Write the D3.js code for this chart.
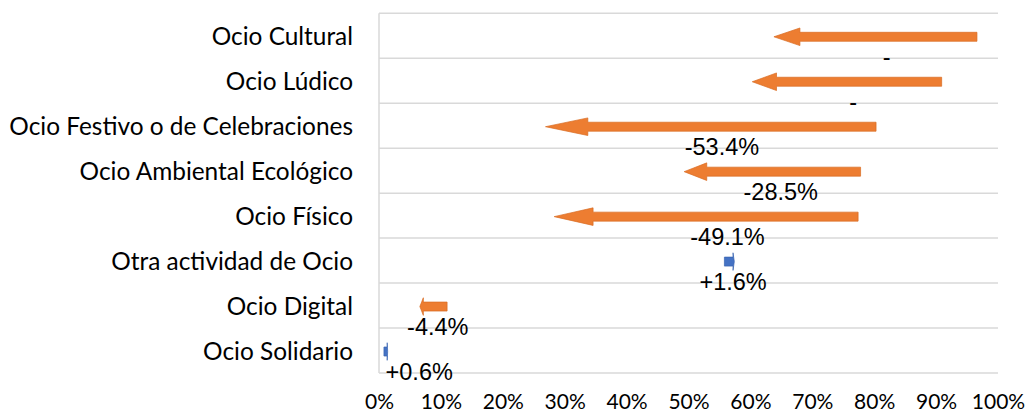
<!DOCTYPE html>
<html>
<head>
<meta charset="utf-8">
<script src="https://cdn.jsdelivr.net/npm/d3@7"></script>
<style>
  body { margin: 0; background: #fff; }
</style>
</head>
<body>
<div id="chart"></div>
<script>
// rows top to bottom
const categories = [
  "Ocio Cultural",
  "Ocio Lúdico",
  "Ocio Festivo o de Celebraciones",
  "Ocio Ambiental Ecológico",
  "Ocio Físico",
  "Otra actividad de Ocio",
  "Ocio Digital",
  "Ocio Solidario"
]
// arrow goes from startValues to endValues (percent)
const startValues = [96.6, 90.9, 80.3, 77.8, 77.4, 55.8, 11.0, 0.8]
const endValues   = [63.8, 60.3, 26.9, 49.3, 28.3, 57.4, 6.6, 1.4]
const changeLabels = ["-", "-", "-53.4%", "-28.5%", "-49.1%", "+1.6%", "-4.4%", "+0.6%"]
// where each change label sits on the axis (percent)
const labelAt = [82.0, 76.6, 55.4, 64.9, 56.3, 57.2, 9.5, 6.5]
const xTicks = [0, 10, 20, 30, 40, 50, 60, 70, 80, 90, 100]

const width = 1025, height = 415

const svg = d3.select("#chart").append("svg")
  .attr("width", width)
  .attr("height", height)

const x = d3.scaleLinear().domain([0, 100]).range([379, 998])
const y = d3.scaleBand().domain(categories).range([13.3, 373])

// horizontal gridlines on band edges
const edges = categories.map(c => y(c)).concat([y.range()[1]])
svg.append("g")
  .selectAll("line")
  .data(edges)
  .enter().append("line")
  .attr("x1", x(0))
  .attr("x2", x(100))
  .attr("y1", d => d)
  .attr("y2", d => d)
  .attr("stroke", "#d9d9d9")
  .attr("stroke-width", 1.5)

// vertical axis line
svg.append("line")
  .attr("x1", x(0)).attr("x2", x(0))
  .attr("y1", y.range()[0]).attr("y2", y.range()[1])
  .attr("stroke", "#d9d9d9")
  .attr("stroke-width", 1.5)

// category labels
const yAxis = svg.append("g")
  .attr("transform", `translate(${x(0)},0)`)
  .call(d3.axisLeft(y).tickSize(0).tickPadding(26))
yAxis.select(".domain").remove()
yAxis.selectAll("text")
  .attr("dy", "0.38em")
  .attr("font-family", "Lato, 'Open Sans', sans-serif")
  .attr("font-size", 24.4)
  .attr("fill", "#000")

// percent ticks
const xAxis = svg.append("g")
  .attr("transform", `translate(0,${y.range()[1]})`)
  .call(d3.axisBottom(x).tickValues(xTicks).tickFormat(d => d + "%").tickSize(0).tickPadding(21))
xAxis.select(".domain").remove()
xAxis.selectAll("text")
  .attr("font-family", "Lato, 'Open Sans', sans-serif")
  .attr("font-size", 21)
  .attr("fill", "#000")

// arrows
const rows = categories.map((c, i) => ({
  cat: c, start: startValues[i], end: endValues[i], label: changeLabels[i], at: labelAt[i]
}))

function arrowPath(d) {
  const s = x(d.start), e = x(d.end)
  const dir = e >= s ? 1 : -1
  const len = Math.abs(e - s)
  const head = len * 0.128
  const cy = y(d.cat) + y.bandwidth() / 2 + 1
  const b = e - dir * head
  return [
    [s, cy - 4.5], [b, cy - 4.5], [b, cy - 8.8], [e, cy],
    [b, cy + 8.8], [b, cy + 4.5], [s, cy + 4.5]
  ].map(p => p.join(",")).join(" ")
}

svg.append("g")
  .selectAll("polygon")
  .data(rows)
  .enter().append("polygon")
  .attr("points", arrowPath)
  .attr("fill", d => d.end < d.start ? "#ED7D31" : "#4472C4")
  .attr("stroke", d => d.end < d.start ? "#d86c22" : "#3a64b0")
  .attr("stroke-width", 0.7)

// change labels
svg.append("g")
  .selectAll("text")
  .data(rows)
  .enter().append("text")
  .attr("x", d => x(d.at))
  .attr("y", d => y(d.cat) + y.bandwidth() / 2 + 29)
  .attr("text-anchor", "middle")
  .attr("font-family", "'Liberation Sans', Arial, sans-serif")
  .attr("font-size", 23.5)
  .attr("fill", "#000")
  .text(d => d.label)
</script>
</body>
</html>
